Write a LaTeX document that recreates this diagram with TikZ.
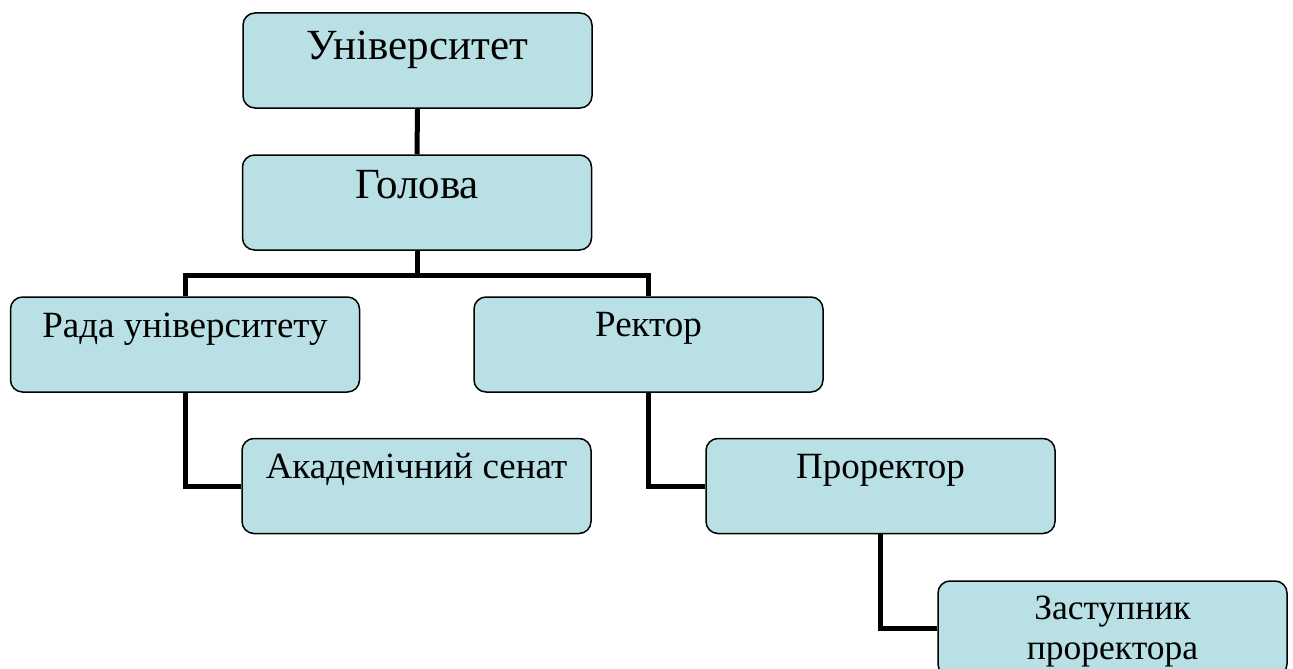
\documentclass[tikz,border=0pt]{standalone}
\usepackage{fontspec}
\setmainfont{Liberation Serif}
\usetikzlibrary{calc}
\definecolor{boxfill}{RGB}{185,224,228}
\tikzset{
  orgbox/.style={draw=black, line width=1.5pt, rounded corners=12pt, fill=boxfill,
    minimum width=349pt, minimum height=95pt, inner sep=0pt},
  biglbl/.style={anchor=base, inner sep=0pt, font=\fontsize{43}{50}\selectfont},
  midlbl/.style={anchor=base, inner sep=0pt, font=\fontsize{37}{44}\selectfont},
  smalllbl/.style={anchor=base, inner sep=0pt, align=center, font=\fontsize{35.5}{40}\selectfont},
  conn/.style={draw=black, line width=5pt}
}
\begin{document}
\begin{tikzpicture}[x=1pt, y=-1pt]
\clip (0,0) rectangle (1293,669);
\useasboundingbox (0,0) rectangle (1293,669);
\node[orgbox] (u) at (417.5,60.5) {};
\node[orgbox] (g) at (417,202.5) {};
\node[orgbox] (rada) at (185,344.5) {};
\node[orgbox] (rek) at (648.5,344.5) {};
\node[orgbox] (ak) at (416.5,486) {};
\node[orgbox] (pro) at (880.5,486) {};
\node[orgbox] (zas) at (1112.5,628.5) {};

\draw[conn] (u.south) -- (g.north);
\draw[conn] (g.south) -- ++(0,25) coordinate (gj) -| (rada.north);
\draw[conn] (gj) -| (rek.north);
\draw[conn] (rada.south) |- (ak.west);
\draw[conn] (rek.south) |- (pro.west);
\draw[conn] (pro.south) |- (zas.west);

\node[biglbl] (ut) at ($(u.north)+(0,47)$) {Університет};
\node[biglbl] (gt) at ($(g.north)+(0,44)$) {Голова};
\node[midlbl] (radat) at ($(rada.north)+(0,41)$) {Рада університету};
\node[midlbl] (rekt) at ($(rek.north)+(0,40)$) {Ректор};
\node[midlbl] (akt) at ($(ak.north)+(0,41)$) {Академічний сенат};
\node[midlbl] (prot) at ($(pro.north)+(0,41)$) {Проректор};
\node[smalllbl] (zast1) at ($(zas.north)+(0,39)$) {Заступник};
\node[smalllbl] (zast2) at ($(zas.north)+(0,79)$) {проректора};
\end{tikzpicture}
\end{document}
